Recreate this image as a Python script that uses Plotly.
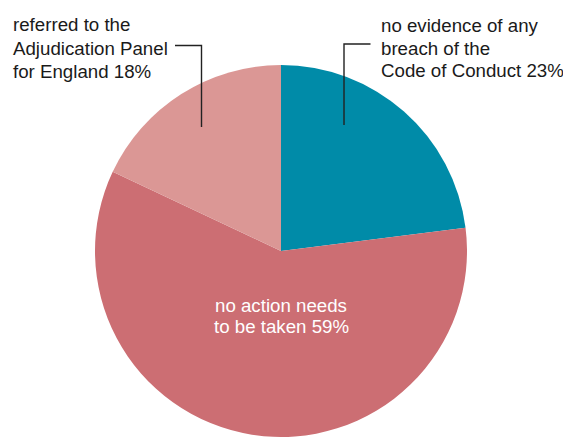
import plotly.graph_objects as go

W, H = 563, 437
OFF = 0

labels = ["no evidence of any breach of the Code of Conduct",
          "no action needs to be taken",
          "referred to the Adjudication Panel for England"]
values = [23, 59, 18]
colors = ["#008BA8", "#CC6E73", "#DB9795"]

label_left = ["referred to the", "Adjudication Panel", "for England 18%"]
label_right = ["no evidence of any", "breach of the", "Code of Conduct 23%"]
label_center = ["no action needs", "to be taken 59%"]


def px(x):
    return (x - OFF) / W


def py(y):
    return 1 - (y - OFF) / H


cx, cy, r = 281, 251, 186
fig = go.Figure(go.Pie(
    labels=labels, values=values, sort=False, direction="clockwise", rotation=0,
    marker=dict(colors=colors, line=dict(width=0)),
    textinfo="none", hoverinfo="label+percent", showlegend=False,
    domain=dict(x=[px(cx - r), px(cx + r)], y=[max(0, py(cy + r)), py(cy - r)]),
))

fam = "Liberation Sans, Arial, sans-serif"
font = dict(family=fam, size=18.7, color="#1a1a1a")
annotations = []
for t, yb in zip(label_left, [24.8, 48.3, 71.3]):
    annotations.append(dict(text=t, x=px(11), y=py(yb), xref="paper", yref="paper",
                            xanchor="left", yanchor="middle", showarrow=False, font=font))
for t, yb in zip(label_right, [25.5, 48.1, 70.5]):
    annotations.append(dict(text=t, x=px(379), y=py(yb), xref="paper", yref="paper",
                            xanchor="left", yanchor="middle", showarrow=False, font=font))
for t, yb in zip(label_center, [305.5, 326.5]):
    annotations.append(dict(text=t, x=px(281), y=py(yb), xref="paper", yref="paper",
                            xanchor="center", yanchor="middle", showarrow=False,
                            font=dict(family=fam, size=18.7, color="white")))

line = dict(color="#222222", width=1.4)
shapes = [
    dict(type="path", xref="paper", yref="paper",
         path=f"M {px(175)} {py(45.5)} L {px(201.5)} {py(45.5)} L {px(201.5)} {py(127)}",
         line=line),
    dict(type="path", xref="paper", yref="paper",
         path=f"M {px(370.5)} {py(44)} L {px(344)} {py(44)} L {px(344)} {py(125)}",
         line=line),
]

fig.update_layout(width=W, height=H, margin=dict(l=0, r=0, t=0, b=0),
                  paper_bgcolor="white", plot_bgcolor="white",
                  annotations=annotations, shapes=shapes)

fig.write_html("out.html", config={"displayModeBar": False},
               post_script="document.body.style.margin='0';document.body.style.overflow='hidden';")
